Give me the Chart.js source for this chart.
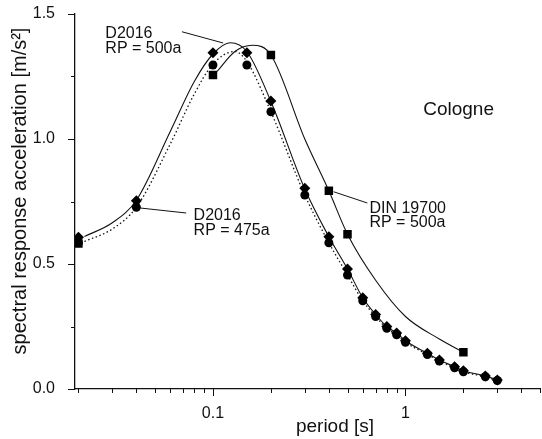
<!DOCTYPE html>
<html lang="en">
<head>
    <meta charset="UTF-8">
    <title>Cologne spectral response</title>
    <script src="https://cdn.jsdelivr.net/npm/chart.js"></script>
    <style>
        * { margin: 0; padding: 0; box-sizing: border-box; }
        body { background: #fff; width: 542px; height: 439px; overflow: hidden; }
        canvas { display: block; }
    </style>
</head>
<body>
    <canvas id="spectrum" width="542" height="439"></canvas>

    <script>
        // marker data (period [s], acceleration [m/s²])
        const periodsD2016 = [0.02, 0.04, 0.1, 0.15, 0.2, 0.3, 0.4, 0.5, 0.6, 0.7, 0.8, 0.9, 1.0, 1.3, 1.5, 1.8, 2.0, 2.6, 3.0];
        const d2016rp500 = [0.607, 0.753, 1.345, 1.345, 1.152, 0.803, 0.609, 0.48, 0.365, 0.298, 0.25, 0.224, 0.193, 0.143, 0.116, 0.089, 0.073, 0.052, 0.036];
        const d2016rp475 = [0.585, 0.727, 1.296, 1.296, 1.109, 0.776, 0.585, 0.456, 0.353, 0.29, 0.243, 0.217, 0.187, 0.138, 0.112, 0.085, 0.069, 0.049, 0.034];

        const periodsDin = [0.02, 0.1, 0.2, 0.4, 0.5, 2.0];
        const din19700 = [0.582, 1.256, 1.336, 0.793, 0.619, 0.147];

        // fitted curves
        const fit500Periods = [0.0215, 0.03, 0.04, 0.06, 0.08, 0.1, 0.123, 0.15, 0.2, 0.3, 0.4, 0.5, 0.6, 0.7, 0.8, 0.9, 1.0, 1.3, 1.5, 1.8, 2.0, 2.6, 3.0];
        const fit500 = [0.61, 0.665, 0.755, 1.03, 1.23, 1.34, 1.385, 1.35, 1.15, 0.80, 0.609, 0.48, 0.365, 0.298, 0.25, 0.224, 0.193, 0.143, 0.116, 0.089, 0.073, 0.052, 0.036];
        const fit475Periods = [0.0215, 0.03, 0.04, 0.06, 0.08, 0.1, 0.13, 0.15, 0.2, 0.3, 0.4, 0.5, 0.6, 0.7, 0.8, 0.9, 1.0, 1.3, 1.5, 1.8, 2.0, 2.6, 3.0];
        const fit475 = [0.59, 0.64, 0.727, 0.98, 1.18, 1.30, 1.35, 1.31, 1.109, 0.776, 0.585, 0.456, 0.353, 0.29, 0.243, 0.217, 0.187, 0.138, 0.112, 0.085, 0.069, 0.049, 0.034];
        const fitDinPeriods = [0.105, 0.13, 0.16, 0.2, 0.3, 0.4, 0.5, 0.7, 1.0, 1.5, 2.0];
        const fitDin = [1.27, 1.35, 1.375, 1.336, 1.0, 0.793, 0.619, 0.435, 0.29, 0.2, 0.147];

        // axis ticks
        const xTicks = [0.02, 0.03, 0.04, 0.05, 0.06, 0.07, 0.08, 0.09, 0.1, 0.2, 0.3, 0.4, 0.5, 0.6, 0.7, 0.8, 0.9, 1, 2, 3, 4, 5];
        const xLabelled = [0.1, 1];
        const yTicks = [0, 0.25, 0.5, 0.75, 1.0, 1.25, 1.5];
        const yLabelled = [0, 0.5, 1.0, 1.5];

        const toPoints = (xs, ys) => xs.map((x, i) => ({ x: x, y: ys[i] }));

        const FONT = "'Liberation Sans', Arial, sans-serif";
        const INK = '#111';

        // text annotations: anchor in data units, lines drawn below each other
        const labels = [
            { x: 0.0276, y: 1.404, lines: ['D2016', 'RP = 500a'], size: 16 },
            { x: 0.0793, y: 0.676, lines: ['D2016', 'RP = 475a'], size: 16 },
            { x: 0.650, y: 0.706, lines: ['DIN 19700', 'RP = 500a'], size: 16 },
            { x: 1.236, y: 1.095, lines: ['Cologne'], size: 19 }
        ];
        const leaders = [
            [0.069, 1.429, 0.113, 1.384],
            [0.0419, 0.724, 0.0726, 0.704],
            [0.4236, 0.789, 0.634, 0.744]
        ];

        const decorations = {
            id: 'decorations',
            afterDraw(chart) {
                const { ctx, chartArea, scales: { x, y } } = chart;
                ctx.save();
                ctx.strokeStyle = INK;
                ctx.lineWidth = 1;

                // tick marks, outward
                xTicks.forEach(v => {
                    const px = Math.round(x.getPixelForValue(v)) + 0.5;
                    const len = xLabelled.includes(v) ? 7 : 4;
                    ctx.beginPath();
                    ctx.moveTo(px, chartArea.bottom);
                    ctx.lineTo(px, chartArea.bottom + len);
                    ctx.stroke();
                });
                yTicks.forEach(v => {
                    const py = Math.round(y.getPixelForValue(v)) + 0.5;
                    const len = yLabelled.includes(v) ? 7 : 4;
                    ctx.beginPath();
                    ctx.moveTo(chartArea.left, py);
                    ctx.lineTo(chartArea.left - len, py);
                    ctx.stroke();
                });

                // leader lines
                leaders.forEach(l => {
                    ctx.beginPath();
                    ctx.moveTo(x.getPixelForValue(l[0]), y.getPixelForValue(l[1]));
                    ctx.lineTo(x.getPixelForValue(l[2]), y.getPixelForValue(l[3]));
                    ctx.stroke();
                });

                // annotations
                ctx.fillStyle = INK;
                ctx.textAlign = 'left';
                ctx.textBaseline = 'alphabetic';
                labels.forEach(lb => {
                    ctx.font = lb.size + 'px ' + FONT;
                    const px = x.getPixelForValue(lb.x);
                    const py = y.getPixelForValue(lb.y);
                    lb.lines.forEach((t, i) => ctx.fillText(t, px, py + i * 14.8));
                });

                // axis titles
                ctx.font = '19px ' + FONT;
                ctx.textAlign = 'center';
                ctx.fillText('period [s]', 335, 432);

                ctx.save();
                ctx.translate(26, 191);
                ctx.rotate(-Math.PI / 2);
                ctx.font = '20px ' + FONT;
                ctx.fillText('spectral response acceleration [m/s²]', 0, 0);
                ctx.restore();

                ctx.restore();
            }
        };

        const ctx = document.getElementById('spectrum').getContext('2d');

        new Chart(ctx, {
            type: 'scatter',
            data: {
                datasets: [
                    {
                        label: 'D2016 RP = 500a',
                        data: toPoints(periodsD2016, d2016rp500),
                        pointStyle: 'rectRot',
                        pointRadius: 5.5,
                        backgroundColor: '#000',
                        borderColor: '#000',
                        borderWidth: 0,
                        showLine: false
                    },
                    {
                        label: 'D2016 RP = 475a',
                        data: toPoints(periodsD2016, d2016rp475),
                        pointStyle: 'circle',
                        pointRadius: 4.5,
                        backgroundColor: '#000',
                        borderColor: '#000',
                        borderWidth: 0,
                        showLine: false
                    },
                    {
                        label: 'DIN 19700 RP = 500a',
                        data: toPoints(periodsDin, din19700),
                        pointStyle: 'rect',
                        pointRadius: 6,
                        backgroundColor: '#000',
                        borderColor: '#000',
                        borderWidth: 0,
                        showLine: false
                    },
                    {
                        type: 'line',
                        label: 'fit 500a',
                        data: toPoints(fit500Periods, fit500),
                        borderColor: INK,
                        borderWidth: 1.1,
                        pointRadius: 0,
                        cubicInterpolationMode: 'monotone',
                        fill: false
                    },
                    {
                        type: 'line',
                        label: 'fit 475a',
                        data: toPoints(fit475Periods, fit475),
                        borderColor: INK,
                        borderWidth: 1.3,
                        borderDash: [1.5, 2.5],
                        pointRadius: 0,
                        cubicInterpolationMode: 'monotone',
                        fill: false
                    },
                    {
                        type: 'line',
                        label: 'fit DIN',
                        data: toPoints(fitDinPeriods, fitDin),
                        borderColor: INK,
                        borderWidth: 1.1,
                        pointRadius: 0,
                        cubicInterpolationMode: 'monotone',
                        fill: false
                    }
                ]
            },
            options: {
                responsive: false,
                animation: false,
                devicePixelRatio: 1,
                layout: { autoPadding: false, padding: { top: 14, right: 2, left: 0, bottom: 0 } },
                plugins: {
                    legend: { display: false },
                    tooltip: { enabled: false }
                },
                scales: {
                    x: {
                        type: 'logarithmic',
                        min: 0.0192,
                        max: 5,
                        grid: { display: false },
                        border: { display: true, color: INK, width: 1.3 },
                        afterBuildTicks: scale => {
                            scale.ticks = xTicks.map(v => ({ value: v }));
                        },
                        afterFit: scale => {
                            scale.height = 50;
                            scale.paddingLeft = 0;
                            scale.paddingRight = 0;
                        },
                        ticks: {
                            autoSkip: false,
                            maxRotation: 0,
                            padding: 7,
                            color: INK,
                            font: { family: FONT, size: 16 },
                            callback: v => xLabelled.includes(v) ? String(v) : ''
                        }
                    },
                    y: {
                        min: 0,
                        max: 1.5,
                        grid: { display: false },
                        border: { display: true, color: INK, width: 1.3 },
                        afterBuildTicks: scale => {
                            scale.ticks = yLabelled.map(v => ({ value: v }));
                        },
                        afterFit: scale => {
                            scale.width = 75;
                            scale.paddingTop = 0;
                            scale.paddingBottom = 0;
                        },
                        ticks: {
                            padding: 12,
                            color: INK,
                            font: { family: FONT, size: 16 },
                            callback: v => v.toFixed(1)
                        }
                    }
                }
            },
            plugins: [decorations]
        });
    </script>
</body>
</html>
